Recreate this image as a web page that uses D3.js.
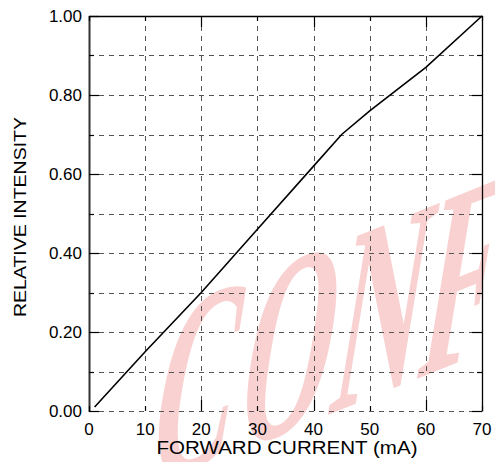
<!DOCTYPE html>
<meta charset="utf-8">
<script src="https://d3js.org/d3.v7.js"></script>
<style>
  body { margin: 0; background: #fff; }
  text { font-family: Arial, "Liberation Sans", sans-serif; }
</style>
<svg id="chart" width="495" height="462"></svg>
<script>

// data
const current = [1, 10, 20, 30, 40, 45, 50, 60, 70];
const intensity = [0.01, 0.15, 0.30, 0.46, 0.62, 0.70, 0.76, 0.87, 1.00];

const xTicks = [0, 10, 20, 30, 40, 50, 60, 70];
const yTicks = [0, 0.1, 0.2, 0.3, 0.4, 0.5, 0.6, 0.7, 0.8, 0.9, 1.0];
const yLabels = [0, 0.2, 0.4, 0.6, 0.8, 1.0];
const xLabels = xTicks;
const xMajor = [20, 40, 60];

const svg = d3.select("svg"),
    width = +svg.attr("width"),
    height = +svg.attr("height");

const margin = {left: 89, right: 13, top: 16, bottom: 51};
const x0 = margin.left, x1 = width - margin.right;
const y0 = height - margin.bottom, y1 = margin.top;

const x = d3.scaleLinear().domain([0, 70]).range([x0, x1]);
const y = d3.scaleLinear().domain([0, 1]).range([y0, y1]);

// watermark (cut by the page edge, as in the source)
svg.append("text")
    .attr("transform", "translate(142,490) skewY(-22) skewX(-10) scale(0.47,1)")
    .style("font-family", "'Liberation Serif', 'Times New Roman', serif")
    .style("font-weight", "bold")
    .style("font-size", "255px")
    .style("letter-spacing", "4px")
    .style("fill", "#e00000")
    .style("fill-opacity", 0.18)
    .text("CONF");

// grid
const grid = svg.append("g")
    .attr("stroke", "#555")
    .attr("stroke-width", 1)
    .attr("stroke-dasharray", "5,5");

grid.selectAll("line.h")
  .data(yTicks)
  .join("line")
    .attr("class", "h")
    .attr("x1", x0).attr("x2", x1)
    .attr("y1", d => Math.round(y(d)) + 0.5)
    .attr("y2", d => Math.round(y(d)) + 0.5);

grid.selectAll("line.v")
  .data(xTicks)
  .join("line")
    .attr("class", "v")
    .attr("y1", y1).attr("y2", y0)
    .attr("x1", d => Math.round(x(d)) + 0.5)
    .attr("x2", d => Math.round(x(d)) + 0.5);

// frame: top and right solid, left dark
svg.append("path")
    .attr("d", `M${x0},${y1 + 0.5}H${x1 + 0.5}V${y0 + 0.5}`)
    .attr("fill", "none")
    .attr("stroke", "#000")
    .attr("stroke-width", 1.3);
svg.append("line")
    .attr("x1", x0 + 0.5).attr("x2", x0 + 0.5)
    .attr("y1", y1).attr("y2", y0 + 1)
    .attr("stroke", "#333")
    .attr("stroke-width", 2);

// inward ticks
const ticks = svg.append("g").attr("stroke", "#000").attr("stroke-width", 1.2);
const ylen = d => yLabels.some(v => Math.abs(v - d) < 1e-9) ? 10 : 5;
const xlen = d => xMajor.includes(d) ? 11 : 5;

ticks.selectAll("line.yl").data(yTicks).join("line")
    .attr("x1", x0).attr("x2", d => x0 + ylen(d))
    .attr("y1", d => Math.round(y(d)) + 0.5).attr("y2", d => Math.round(y(d)) + 0.5);
ticks.selectAll("line.yr").data(yTicks).join("line")
    .attr("x1", x1).attr("x2", d => x1 - ylen(d))
    .attr("y1", d => Math.round(y(d)) + 0.5).attr("y2", d => Math.round(y(d)) + 0.5);
ticks.selectAll("line.xb").data(xTicks).join("line")
    .attr("y1", y0).attr("y2", d => y0 - xlen(d))
    .attr("x1", d => Math.round(x(d)) + 0.5).attr("x2", d => Math.round(x(d)) + 0.5);
ticks.selectAll("line.xt").data(xTicks).join("line")
    .attr("y1", y1).attr("y2", d => y1 + xlen(d))
    .attr("x1", d => Math.round(x(d)) + 0.5).attr("x2", d => Math.round(x(d)) + 0.5);

// curve
svg.append("path")
    .datum(current.map((c, i) => [c, intensity[i]]))
    .attr("fill", "none")
    .attr("stroke", "#000")
    .attr("stroke-width", 1.6)
    .attr("d", d3.line().x(d => x(d[0])).y(d => y(d[1])));

// tick labels
svg.selectAll("text.ylab")
  .data(yLabels)
  .join("text")
    .attr("class", "ylab")
    .attr("x", 82)
    .attr("y", d => y(d) + 6)
    .attr("text-anchor", "end")
    .style("font-size", "17px")
    .text(d => d.toFixed(2));

svg.selectAll("text.xlab")
  .data(xLabels)
  .join("text")
    .attr("class", "xlab")
    .attr("x", d => x(d))
    .attr("y", 435)
    .attr("text-anchor", "middle")
    .style("font-size", "17px")
    .text(d => d);

// axis titles
svg.append("text")
    .attr("x", 287)
    .attr("y", 454)
    .attr("text-anchor", "middle")
    .attr("textLength", 261)
    .attr("lengthAdjust", "spacingAndGlyphs")
    .style("font-size", "17.5px")
    .text("FORWARD CURRENT (mA)");

svg.append("text")
    .attr("transform", "translate(26,217) rotate(-90)")
    .attr("text-anchor", "middle")
    .attr("textLength", 200)
    .attr("lengthAdjust", "spacingAndGlyphs")
    .style("font-size", "17px")
    .text("RELATIVE INTENSITY");

</script>
